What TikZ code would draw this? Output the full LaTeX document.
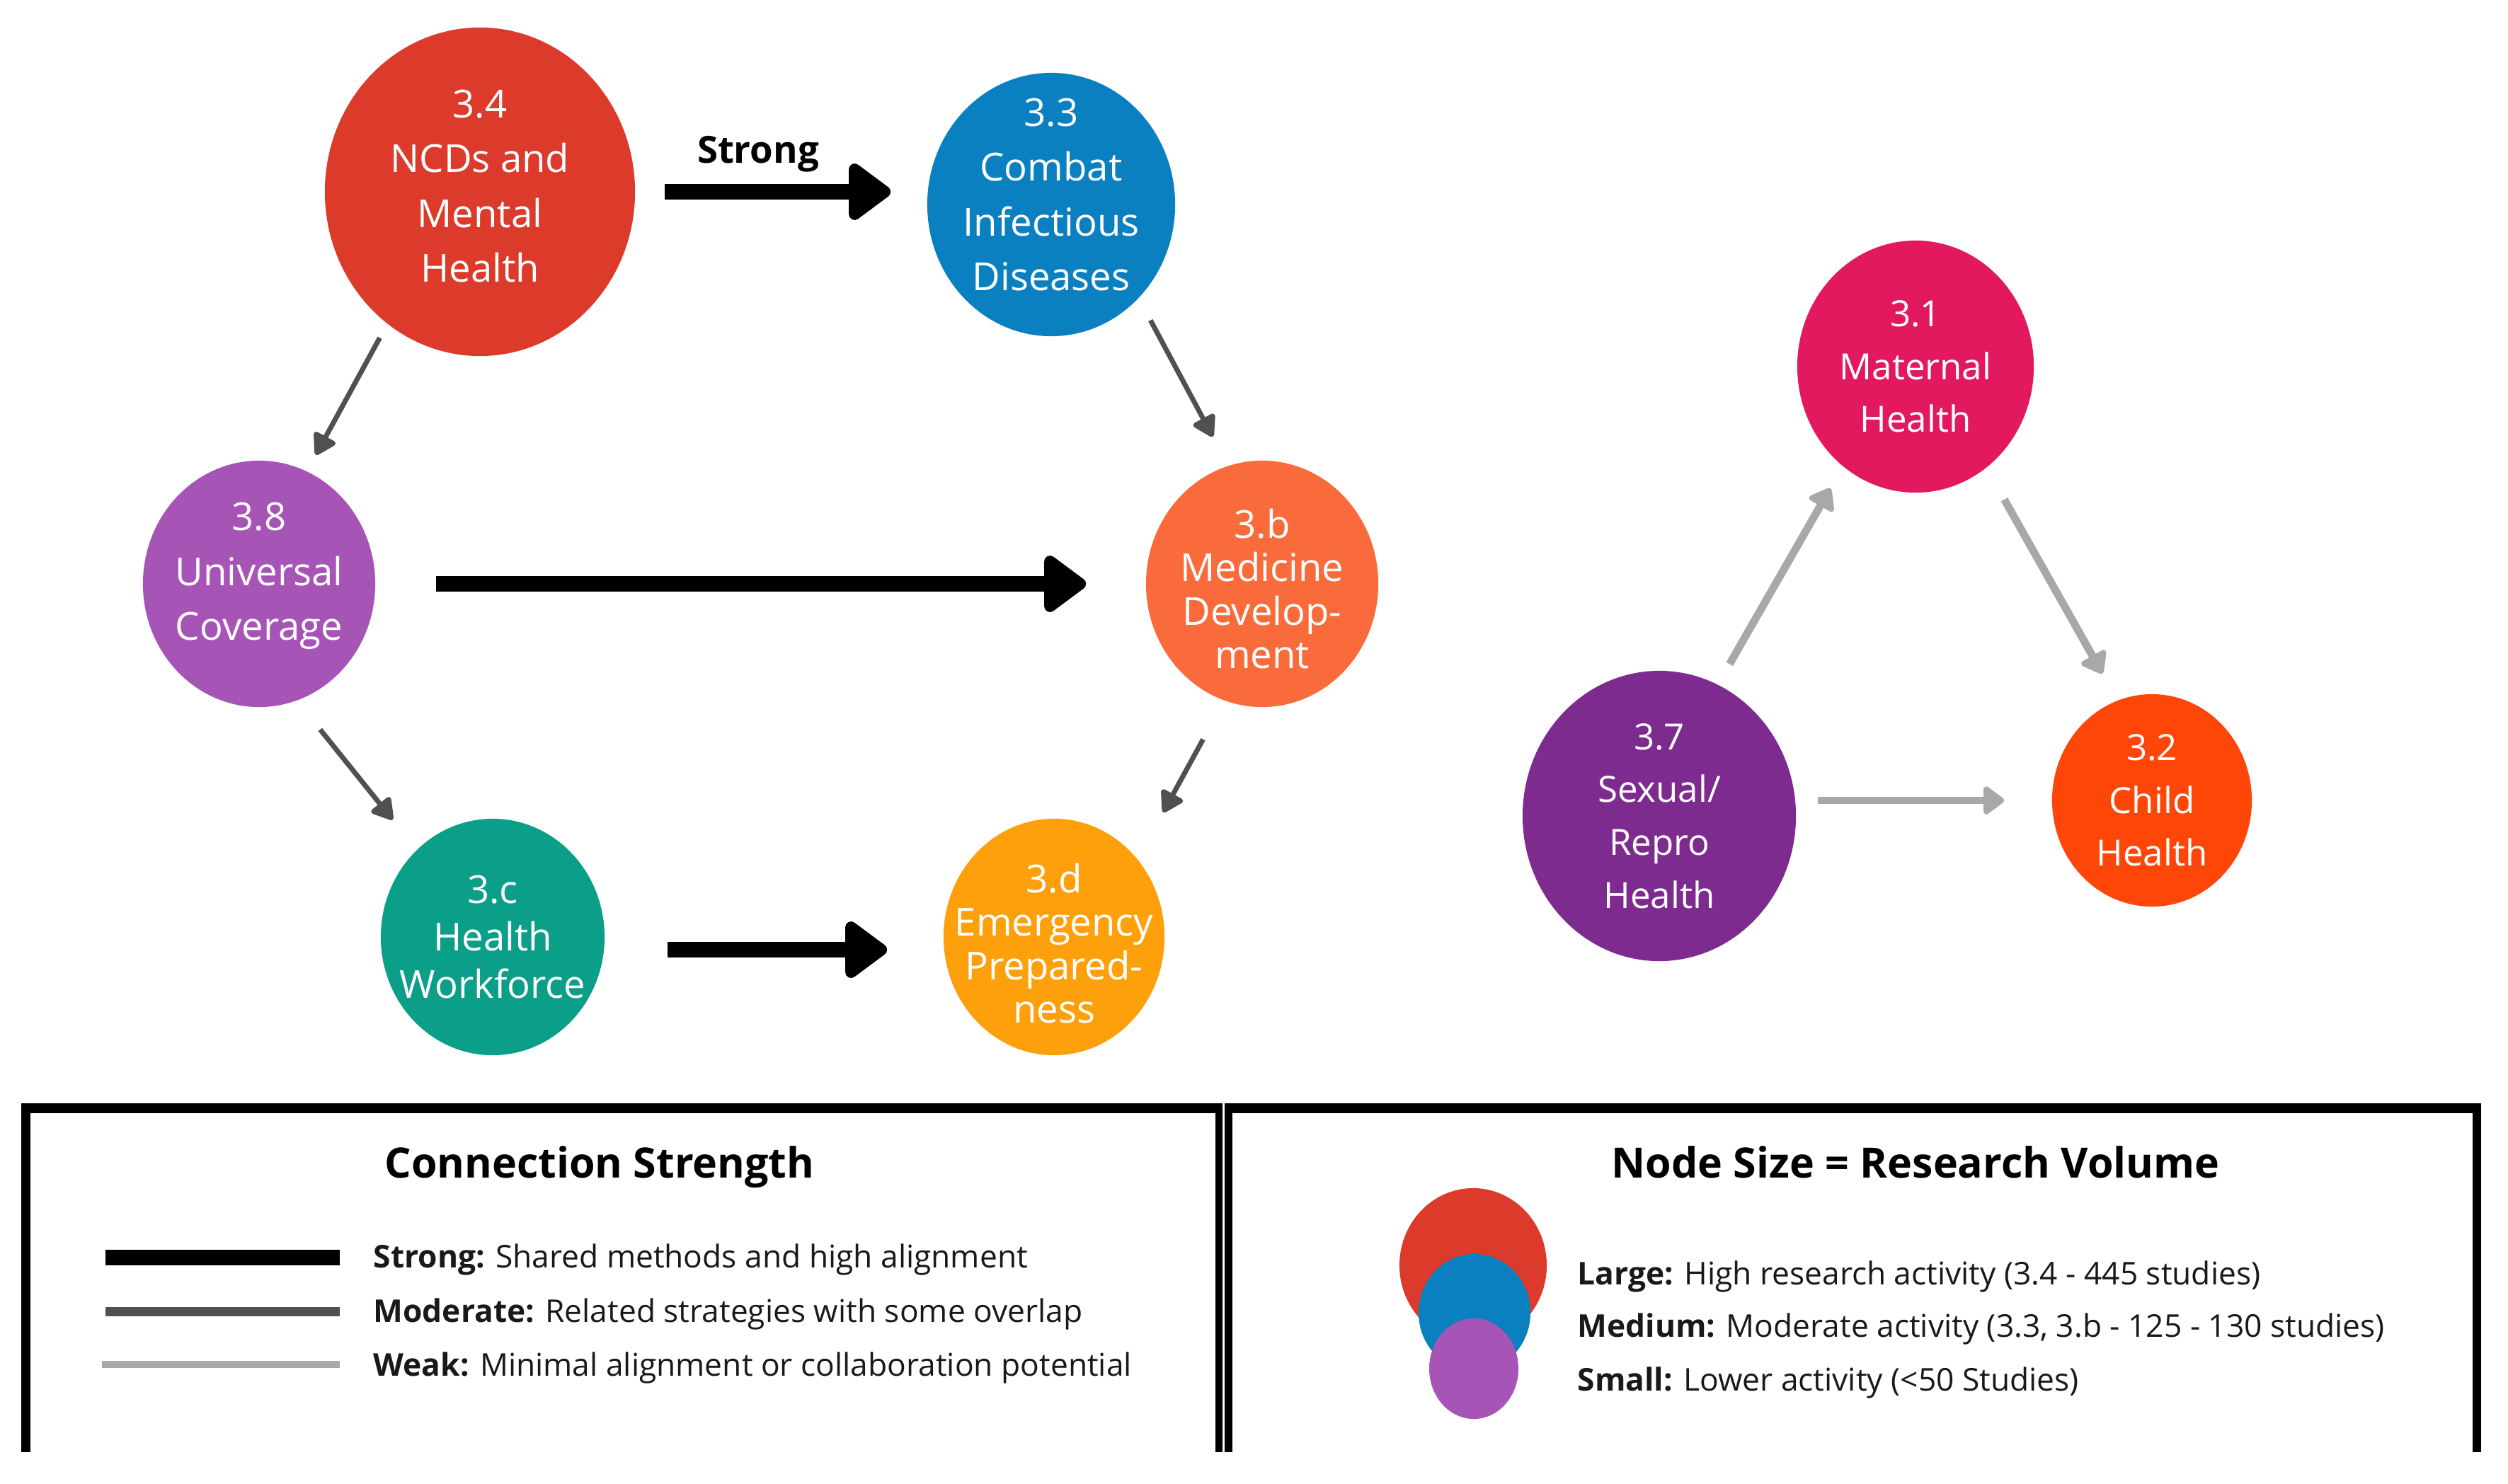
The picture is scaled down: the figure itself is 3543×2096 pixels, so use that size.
\documentclass[tikz,border=0pt]{standalone}
\usepackage{fontspec}
\setmainfont{Open Sans}
\usetikzlibrary{arrows.meta,shapes.geometric,calc}
\definecolor{cA}{HTML}{DC3B2C}
\definecolor{cB}{HTML}{0A80C0}
\definecolor{cC}{HTML}{A754B7}
\definecolor{cD}{HTML}{F96B3B}
\definecolor{cE}{HTML}{0B9E88}
\definecolor{cF}{HTML}{FEA00C}
\definecolor{cG}{HTML}{E2195E}
\definecolor{cH}{HTML}{7E2B8F}
\definecolor{cI}{HTML}{FD4608}
\definecolor{modgray}{HTML}{505050}
\definecolor{weakgray}{HTML}{A8A8A8}
\begin{document}
\begin{tikzpicture}[x=0.01cm,y=-0.01cm,
  ell/.style={ellipse,inner sep=0pt,draw=none},
  lbl/.style={text=white,align=center,inner sep=0pt},
  lblL/.style={lbl,font=\fontsize{15.5}{22}\selectfont},
  lblT/.style={lbl,font=\fontsize{15.5}{17.4}\selectfont},
  lblM/.style={lbl,font=\fontsize{15.5}{19}\selectfont},
  lblR/.style={lbl,font=\fontsize{14.5}{21.2}\selectfont},
  strongarrow/.style={line width=6.5pt,draw=black,-{Triangle[length=18.5pt,width=26pt,round]}},
  modarrow/.style={line width=2pt,draw=modgray,-{Triangle[length=9.4pt,width=10.8pt,round]}},
  weakarrow/.style={line width=3.1pt,draw=weakgray,-{Triangle[length=9.1pt,width=12.8pt,round]}},
  legtitle/.style={font=\fontsize{16.8}{20}\selectfont\bfseries,inner sep=0pt},
  legtext/.style={font=\fontsize{12.6}{15}\selectfont,inner sep=0pt,text=black!90},
  frame/.style={fill=black}
]
\useasboundingbox (0,0) rectangle (3543,2096);
\fill[white] (0,0) rectangle (3543,2096);

% ---- main nodes ----
\node[ell,fill=cA,minimum width=4.38cm,minimum height=4.64cm] (n34) at (678,271) {};
\node[lblL] at ([yshift=0.08cm]n34) {3.4\\NCDs and\\Mental\\Health};
\node[ell,fill=cB,minimum width=3.50cm,minimum height=3.72cm] (n33) at (1485,289) {};
\node[lblL] at ([yshift=0.14cm]n33) {3.3\\Combat\\Infectious\\Diseases};
\node[ell,fill=cC,minimum width=3.28cm,minimum height=3.48cm] (n38) at (366,825) {};
\node[lblL] at ([yshift=0.11cm]n38) {3.8\\Universal\\Coverage};
\node[ell,fill=cD,minimum width=3.28cm,minimum height=3.48cm] (n3b) at (1783,825) {};
\node[lblT] at ([yshift=-0.07cm]n3b) {3.b\\Medicine\\Develop-\\ment};
\node[ell,fill=cE,minimum width=3.16cm,minimum height=3.34cm] (n3c) at (696,1324) {};
\node[lblM] at (n3c) {3.c\\Health\\Workforce};
\node[ell,fill=cF,minimum width=3.12cm,minimum height=3.34cm] (n3d) at (1489,1324) {};
\node[lblT] at ([yshift=-0.09cm]n3d) {3.d\\Emergency\\Prepared-\\ness};
\node[ell,fill=cG,minimum width=3.34cm,minimum height=3.56cm] (n31) at (2706,518) {};
\node[lblR] at (n31) {3.1\\Maternal\\Health};
\node[ell,fill=cH,minimum width=3.86cm,minimum height=4.10cm] (n37) at (2344,1153) {};
\node[lblR] at (n37) {3.7\\Sexual/\\Repro\\Health};
\node[ell,fill=cI,minimum width=2.82cm,minimum height=3.00cm] (n32) at (3040,1131) {};
\node[lblR] at (n32) {3.2\\Child\\Health};

% ---- connectors ----
\draw[strongarrow,shorten <=0.41cm,shorten >=0.51cm] (n34.east) -- (n34.east -| n33.west);
\node[font=\fontsize{15}{18}\selectfont\bfseries,inner sep=0pt] (lblstrong) at (1071,218) {Strong};
\draw[modarrow,shorten <=0.22cm,shorten >=0.26cm] (n34.235) -- (n38.67);
\draw[modarrow,shorten <=0.35cm,shorten >=0.46cm] (n33.313) -- (n3b.106);
\draw[strongarrow,shorten <=0.85cm,shorten >=0.84cm] (n38) -- (n3b);
\draw[modarrow,shorten <=0.52cm,shorten >=0.54cm] (n38.288) -- (n3c.131);
\draw[modarrow,shorten <=0.62cm,shorten >=0.75cm] (n3b.252) -- (n3d.43);
\draw[strongarrow,shorten <=0.88cm,shorten >=0.79cm] ([yshift=-0.18cm]n3c.east) -- ([yshift=-0.18cm]n3c.east -| n3d.west);
\draw[weakarrow,shorten <=0.33cm,shorten >=0.35cm] (n37.66) -- (n31.234);
\draw[weakarrow,shorten <=0.51cm,shorten >=0.43cm] (n31.305) -- (n32.109);
\draw[weakarrow,shorten <=0.30cm,shorten >=0.67cm] (n37.east |- n32.west) -- (n32.west);

% ---- legend frames ----
\fill[frame] (30,1559) rectangle (1727,1573);
\fill[frame] (30,1559) rectangle (43,2052);
\fill[frame] (1717,1559) rectangle (1727,2052);
\fill[frame] (1730,1559) rectangle (3505,1573);
\fill[frame] (1730,1559) rectangle (1741,2052);
\fill[frame] (3493,1559) rectangle (3505,2052);

% ---- left legend ----
\node[legtitle,anchor=base] (lt1) at (847,1664) {Connection Strength};
\draw[line width=6.5pt,black] (149,1777) -- (480,1777);
\draw[line width=3.7pt,modgray] (149,1853) -- (480,1853);
\draw[line width=2.85pt,weakgray] (144,1928) -- (480,1928);
\node[legtext,anchor=base west] (ls) at (527,1791) {\textbf{Strong:} Shared methods and high alignment};
\node[legtext,anchor=base west] (lm) at (527,1868) {\textbf{Moderate:} Related strategies with some overlap};
\node[legtext,anchor=base west] (lw) at (527,1944) {\textbf{Weak:} Minimal alignment or collaboration potential};

% ---- right legend ----
\node[legtitle,anchor=base] (lt2) at (2706,1664) {Node Size = Research Volume};
\node[ell,fill=cA,minimum width=2.08cm,minimum height=2.18cm] (lg1) at (2081,1788) {};
\node[ell,fill=cB,minimum width=1.58cm,minimum height=1.66cm] (lg2) at (2083,1855) {};
\node[ell,fill=cC,minimum width=1.26cm,minimum height=1.42cm] (lg3) at (2082,1934) {};
\node[legtext,anchor=base west] (rl) at (2228,1815) {\textbf{Large:} High research activity (3.4 - 445 studies)};
\node[legtext,anchor=base west] (rm) at (2228,1889) {\textbf{Medium:} Moderate activity (3.3, 3.b - 125 - 130 studies)};
\node[legtext,anchor=base west] (rs) at (2228,1965) {\textbf{Small:} Lower activity (<50 Studies)};
\end{tikzpicture}
\end{document}
